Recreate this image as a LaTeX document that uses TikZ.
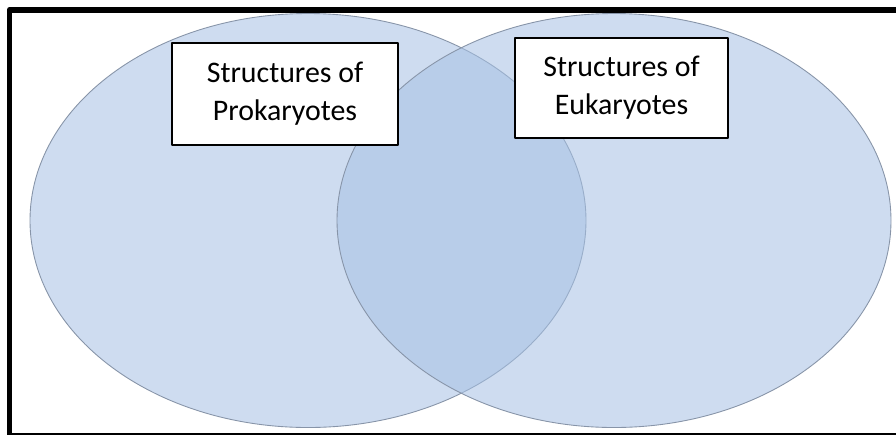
\documentclass[tikz,border=0pt]{standalone}
\usepackage{fontspec}
\setmainfont{Carlito}
\definecolor{setblue}{RGB}{166,193,228}
\definecolor{setline}{RGB}{135,148,168}

\begin{document}
\begin{tikzpicture}[x=0.02cm,y=-0.02cm,line join=round,
  vennset/.style={draw=setline,line width=0.5pt,fill=setblue,fill opacity=0.55},
  labelbox/.style={draw,line width=1.2pt,fill=white,inner sep=0pt,align=center,
    font=\fontsize{17}{21.8}\selectfont}]
  \useasboundingbox (0,0) rectangle (896,434);
  \clip (0,0) rectangle (896,434);
  % 集合
  \fill[white] (0,0) rectangle (896,434);
  \draw[vennset] (308,220.5) ellipse [x radius=278,y radius=207];
  \draw[vennset] (614,220.5) ellipse [x radius=277,y radius=207];
  % 标签
  \node[labelbox,minimum width=4.52cm,minimum height=2.04cm] (prok) at (285,94)
    {Structures of\\Prokaryotes};
  \node[labelbox,minimum width=4.26cm,minimum height=2.0cm] (euk) at (621.5,88)
    {Structures of\\Eukaryotes};
  % 边框
  \draw[line width=0.12cm] (9.5,10) rectangle (906,435.5);
\end{tikzpicture}
\end{document}
